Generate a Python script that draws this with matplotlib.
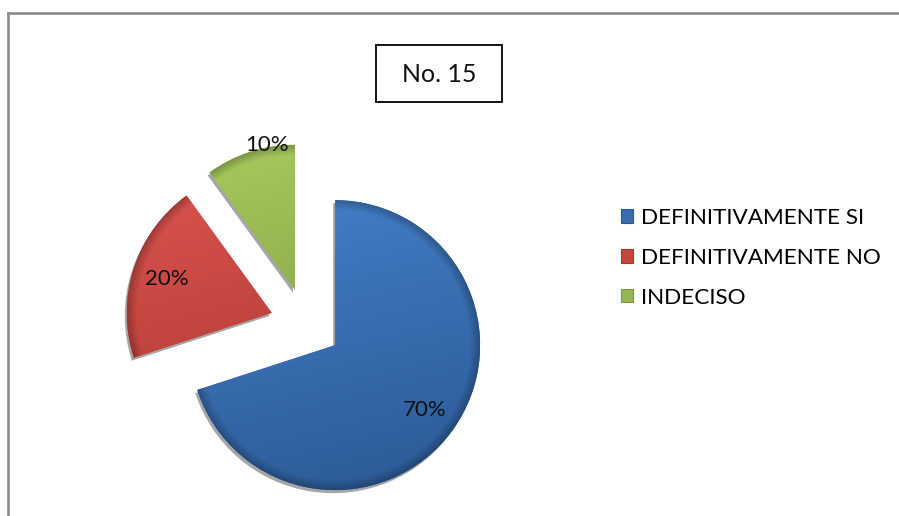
import numpy as np
import matplotlib
matplotlib.use("Agg")
import matplotlib.pyplot as plt
from matplotlib.patches import Rectangle, Wedge
from matplotlib.lines import Line2D

# Survey answers, question 15
labels = ["DEFINITIVAMENTE SI", "DEFINITIVAMENTE NO", "INDECISO"]
values = [70, 20, 10]
pct_text = ["70%", "20%", "10%"]
title = "No. 15"

face_colors = ["#3a6cb0", "#c4463f", "#95b64e"]
top_colors = ["#4480c8", "#dc5550", "#a9cb60"]
bottom_colors = ["#2b5894", "#a8352f", "#78973a"]

W, H = 899, 516
FONT = ["Lato", "DejaVu Sans"]


def hex_rgb(c):
    c = c.lstrip("#")
    return np.array([int(c[i:i + 2], 16) / 255 for i in (0, 2, 4)])


def shade_wedge(ax, w, top, bottom):
    """Vertical gradient with a darker rim, clipped to the wedge."""
    (x0, y0), r = w.center, w.r
    n = 200
    yy, xx = np.mgrid[0:n, 0:n]
    px = x0 - r + (xx + 0.5) / n * 2 * r
    py = y0 + r - (yy + 0.5) / n * 2 * r
    t = (yy / (n - 1))[..., None] * 0.8 + (xx / (n - 1))[..., None] * 0.2
    rgb = hex_rgb(top) * (1 - t) + hex_rgb(bottom) * t
    d = np.hypot(px - x0, py - y0) / r
    rim = np.clip((d - 0.93) / 0.07, 0, 1)[..., None]
    rgb = rgb * (1 - 0.25 * rim)
    im = ax.imshow(rgb, extent=[x0 - r, x0 + r, y0 - r, y0 + r],
                   origin="upper", zorder=3, interpolation="bilinear")
    im.set_clip_path(w)


fig = plt.figure(figsize=(W / 100, H / 100), dpi=100)
ax = fig.add_axes([0, 0, 1, 1])

cx, cy, R = 306, H - 324, 145
wedges, _ = ax.pie(values, explode=[36] * 3, center=(cx, cy), radius=R,
                   startangle=90, counterclock=False, colors=face_colors,
                   wedgeprops=dict(linewidth=0, zorder=2))

label_r = [0.76, 0.76, 1.02]
label_turn = [0, 0, -7]
for w, top, bot, txt, lr, turn in zip(wedges, top_colors, bottom_colors,
                                      pct_text, label_r, label_turn):
    # soft drop shadow under each slice
    sh = Wedge((w.center[0] - 2, w.center[1] - 3), w.r, w.theta1, w.theta2,
               facecolor="#000000", alpha=0.35, linewidth=0, zorder=1)
    ax.add_patch(sh)
    shade_wedge(ax, w, top, bot)
    mid = np.deg2rad((w.theta1 + w.theta2) / 2 + turn)
    ax.text(w.center[0] + lr * w.r * np.cos(mid),
            w.center[1] + lr * w.r * np.sin(mid), txt,
            ha="center", va="center", fontsize=16, family=FONT,
            color="#111111", zorder=5)

ax.set_xlim(0, W)
ax.set_ylim(0, H)
ax.set_aspect("auto")
ax.axis("off")

# title box
ax.add_patch(Rectangle((376, H - 102), 126, 57, facecolor="white",
                       edgecolor="black", linewidth=1.3, zorder=4))
ax.text(439, H - 74, title, ha="center", va="center", fontsize=18,
        family=FONT, color="#111111", zorder=5)

# legend
handles = [Rectangle((0, 0), 1, 1, facecolor=c, edgecolor=b, linewidth=0.8)
           for c, b in zip(face_colors, bottom_colors)]
fig.legend(handles, labels, loc="upper left",
           bbox_to_anchor=(621 / W, 1 - 208 / H), frameon=False,
           borderpad=0, borderaxespad=0,
           prop=dict(family=FONT, size=16.2), handlelength=0.55,
           handleheight=0.55, handletextpad=0.35, labelspacing=0.88)

# outer frame (top and left edges only show)
fig.add_artist(Line2D([8 / W, 1], [1 - 13 / H, 1 - 13 / H],
                      transform=fig.transFigure, color="#8c8c8c", lw=1.9))
fig.add_artist(Line2D([8 / W, 8 / W], [0, 1 - 13 / H],
                      transform=fig.transFigure, color="#8c8c8c", lw=1.9))

fig.savefig("out.png", dpi=100, facecolor="white")
